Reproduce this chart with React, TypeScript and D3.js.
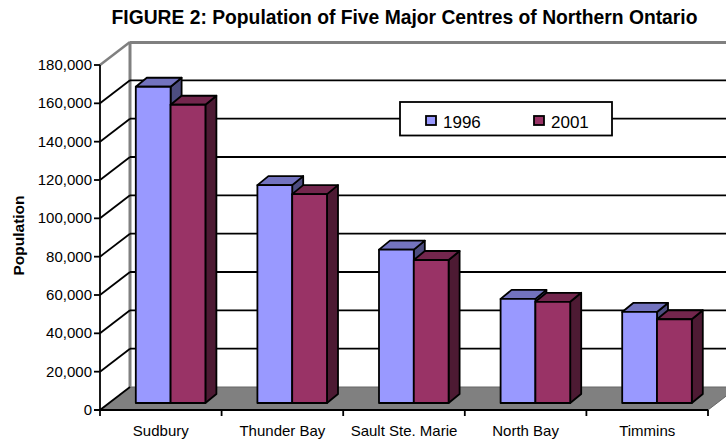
import * as d3 from "d3";

const categories = ["Sudbury", "Thunder Bay", "Sault Ste. Marie", "North Bay", "Timmins"];
const seriesNames = ["1996", "2001"];
const values1996 = [165000, 113700, 80000, 54300, 47500];
const values2001 = [155600, 109000, 74600, 52800, 43700];
const yTicks = d3.range(0, 180001, 20000);

const colors = [
  { front: "#9999ff", top: "#7373bf", side: "#4d4d80" },
  { front: "#993366", top: "#73264d", side: "#4d1a33" },
];

const W = 726;
const H = 441;
const depthX = 30;
const depthY = 23;

export default function App() {
  const x = d3.scaleBand<string>().domain(categories).range([100, 708]);
  const y = d3.scaleLinear().domain([0, 180000]).range([410, 65]);
  const inner = d3.scaleBand<string>().domain(seriesNames).range([35.8, 105.4]);
  const font = "'Liberation Sans', Arial, sans-serif";
  const series = [values1996, values2001];
  const poly = (pts: number[][]) => pts.map((p) => p.join(",")).join(" ");
  const right = 708;

  return (
    <svg
      width={W}
      height={H}
      style={{ position: "absolute", left: 0, top: 0, background: "#fff" }}
      fontFamily={font}
    >
      <text x={404.5} y={24} textAnchor="middle" fontSize={19.3} fontWeight="bold">
        FIGURE 2: Population of Five Major Centres of Northern Ontario
      </text>

      {/* floor and walls */}
      <polygon
        points={poly([
          [100, y(0)],
          [100 + depthX, y(0) - depthY],
          [right + depthX, y(0) - depthY],
          [right, y(0)],
        ])}
        fill="#808080"
        stroke="#666"
      />
      <line x1={130} x2={130} y1={y(180000) - depthY} y2={y(0) - depthY} stroke="#808080" strokeWidth={3} />
      <line x1={130} x2={right + depthX} y1={y(180000) - depthY + 0.5} y2={y(180000) - depthY + 0.5} stroke="#808080" strokeWidth={3} />

      {/* gridlines */}
      {yTicks.map((t) => (
        <g key={t} stroke="#000" strokeWidth={1.8} fill="none">
          {t > 0 && t < 180000 && (
            <line x1={130} x2={right + depthX} y1={y(t) - depthY} y2={y(t) - depthY} />
          )}
          <line x1={100} x2={130} y1={y(t)} y2={y(t) - depthY} stroke={t === 180000 ? "#808080" : "#000"} strokeWidth={t === 180000 ? 2.5 : 1.8} />
        </g>
      ))}

      {/* bars */}
      {categories.map((c, i) =>
        seriesNames.map((s, j) => {
          const left = x(c)! + inner(s)!;
          const barRight = left + inner.bandwidth();
          const base = y(0) - 7;
          const top = base - (y(0) - y(series[j][i]));
          const dx = 11;
          const dy = 9;
          return (
            <g key={c + s} stroke="#000" strokeWidth={1.8} strokeLinejoin="round">
              <polygon
                points={poly([
                  [barRight, top],
                  [barRight + dx, top - dy],
                  [barRight + dx, base - dy],
                  [barRight, base],
                ])}
                fill={colors[j].side}
              />
              <polygon
                points={poly([
                  [left, top],
                  [left + dx, top - dy],
                  [barRight + dx, top - dy],
                  [barRight, top],
                ])}
                fill={colors[j].top}
              />
              <rect x={left} y={top} width={barRight - left} height={base - top} fill={colors[j].front} />
            </g>
          );
        })
      )}

      {/* axes */}
      <g stroke="#000" strokeWidth={1.8}>
        <line x1={100} x2={100} y1={y(180000)} y2={y(0) + 6} />
        <line x1={94} x2={right} y1={y(0)} y2={y(0)} />
        {yTicks.map((t) => (
          <line key={t} x1={94} x2={100} y1={y(t)} y2={y(t)} />
        ))}
        {categories.map((c) => {
          const px = x(c)! + x.bandwidth();
          return <line key={c} x1={px} x2={px} y1={y(0)} y2={y(0) + 6} />;
        })}
      </g>
      {yTicks.map((t) => (
        <text key={t} x={92} y={y(t) + 5} textAnchor="end" fontSize={15}>
          {d3.format(",")(t)}
        </text>
      ))}
      {categories.map((c) => (
        <text key={c} x={x(c)! + x.bandwidth() / 2} y={436} textAnchor="middle" fontSize={15}>
          {c}
        </text>
      ))}
      <text transform="translate(24,235.5) rotate(-90)" textAnchor="middle" fontSize={15.5} fontWeight="bold">
        Population
      </text>

      {/* legend */}
      <rect x={400} y={102} width={212} height={33.5} fill="#fff" stroke="#000" strokeWidth={1.8} />
      {seriesNames.map((s, j) => {
        const lx = [426, 534][j];
        return (
          <g key={s}>
            <rect x={lx} y={116} width={10} height={9} fill={colors[j].front} stroke="#000" strokeWidth={1.8} />
            <text x={lx + 17} y={128} fontSize={17}>
              {s}
            </text>
          </g>
        );
      })}
    </svg>
  );
}
